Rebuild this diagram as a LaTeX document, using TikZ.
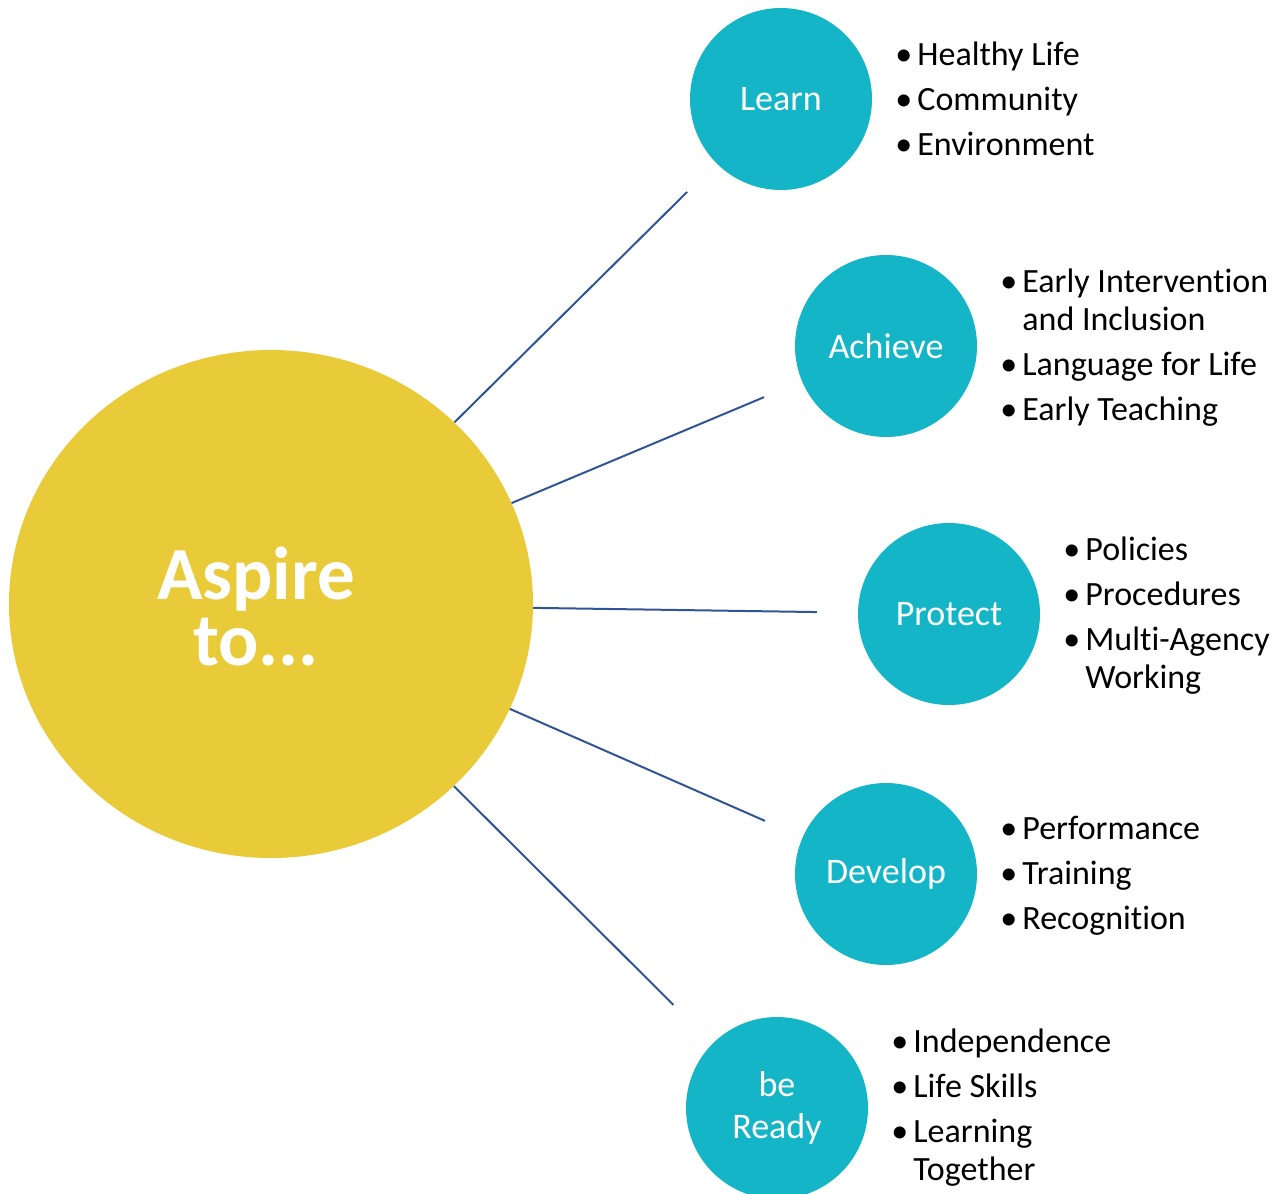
\documentclass[tikz,border=0pt]{standalone}
\usepackage{fontspec}
\setmainfont{Carlito}[Ligatures=NoCommon]
\usetikzlibrary{shapes.geometric, positioning}
\definecolor{aspireyellow}{RGB}{233,203,58}
\definecolor{aimteal}{RGB}{20,181,198}
\definecolor{linkblue}{RGB}{47,85,151}
\newcommand{\bul}{\makebox[22pt][l]{•}}

\begin{document}
\begin{tikzpicture}[
        x=1pt, y=-1pt,
        hub/.style={ellipse, fill=aspireyellow, minimum width=524pt, minimum height=508pt, inner sep=0pt},
        hubtext/.style={align=center, text=white, font=\fontsize{75}{66}\selectfont\bfseries},
        aim/.style={circle, fill=aimteal, minimum size=182pt, inner sep=0pt, align=center, text=white, font=\fontsize{36}{42}\selectfont},
        items/.style={inner sep=0pt, align=left, font=\fontsize{34}{38}\selectfont},
        link/.style={linkblue, line width=2pt, shorten >=41pt}
    ]
        \useasboundingbox (0,0) rectangle (1286,1194);

        \node[hub] (aspire) at (271,604) {};
        \node[hubtext] (aspiretext) at (256,606) {Aspire\\to...};

        \node[aim] (learn) at (781,99) {Learn};
        \node[aim] (achieve) at (886,346) {Achieve};
        \node[aim] (protect) at (949,614) {Protect};
        \node[aim] (develop) at (886,874) {Develop};
        \node[aim] (ready) at (777,1108) {be\\Ready};

        \node[items, right=23pt of learn] (learnlist) {\bul Healthy Life\\[7pt]\bul Community\\[7pt]\bul Environment};
        \node[items, right=23pt of achieve, yshift=-2pt] (achievelist) {\bul Early Intervention\\ \hspace*{22pt}and Inclusion\\[7pt]\bul Language for Life\\[7pt]\bul Early Teaching};
        \node[items, right=23pt of protect, yshift=-2pt] (protectlist) {\bul Policies\\[7pt]\bul Procedures\\[7pt]\bul Multi-Agency\\ \hspace*{22pt}Working};
        \node[items, right=23pt of develop, yshift=-2pt] (developlist) {\bul Performance\\[7pt]\bul Training\\[7pt]\bul Recognition};
        \node[items, right=23pt of ready] (readylist) {\bul Independence\\[7pt]\bul Life Skills\\[7pt]\bul Learning\\ \hspace*{22pt}Together};

        \draw[link] (aspire) -- (learn);
        \draw[link] (aspire) -- (achieve);
        \draw[link] (aspire) -- (protect);
        \draw[link] (aspire) -- (develop);
        \draw[link, shorten >=55pt] (aspire) -- (ready);
    \end{tikzpicture}
\end{document}
